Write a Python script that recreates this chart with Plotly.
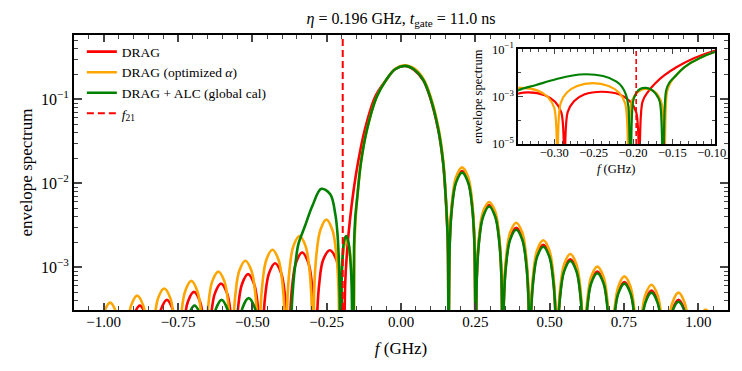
import plotly.graph_objects as go

# ---- data (f in GHz, envelope spectrum) ----
f21 = -0.196

# right-hand side lobes, shared frequency grid for the three pulses
f_right = [
    0.164, 0.172, 0.185, 0.2055, 0.226, 0.239, 0.247, 0.251,
    0.255, 0.263, 0.276, 0.2965, 0.317, 0.330, 0.338, 0.342,
    0.346, 0.354, 0.367, 0.3875, 0.408, 0.421, 0.429, 0.433,
    0.437, 0.445, 0.458, 0.4785, 0.499, 0.512, 0.520, 0.524,
    0.528, 0.536, 0.549, 0.5695, 0.590, 0.603, 0.611, 0.615,
    0.619, 0.627, 0.640, 0.6605, 0.681, 0.694, 0.702, 0.706,
    0.710, 0.718, 0.731, 0.7515, 0.772, 0.785, 0.793, 0.797,
    0.801, 0.809, 0.822, 0.8425, 0.863, 0.876, 0.884, 0.888,
    0.892, 0.900, 0.913, 0.9335, 0.954, 0.967, 0.975, 0.979,
    0.983, 0.991, 1.004, 1.0245, 1.045, 1.058, 1.066, 1.070,
    1.074, 1.082, 1.095, 1.1155,
]
red_right = [
    1.96e-3, 5.6e-3, 1.06e-2, 1.40e-2, 1.06e-2, 5.6e-3, 1.96e-3, 1e-7,
    7.7e-4, 2.2e-3, 4.2e-3, 5.5e-3, 4.2e-3, 2.2e-3, 7.7e-4, 1e-7,
    4.1e-4, 1.18e-3, 2.24e-3, 2.95e-3, 2.24e-3, 1.18e-3, 4.1e-4, 1e-7,
    2.6e-4, 7.4e-4, 1.41e-3, 1.85e-3, 1.41e-3, 7.4e-4, 2.6e-4, 1e-7,
    1.75e-4, 5.0e-4, 9.5e-4, 1.25e-3, 9.5e-4, 5.0e-4, 1.75e-4, 1e-7,
    1.25e-4, 3.6e-4, 6.8e-4, 8.9e-4, 6.8e-4, 3.6e-4, 1.25e-4, 1e-7,
    9.4e-5, 2.7e-4, 5.1e-4, 6.7e-4, 5.1e-4, 2.7e-4, 9.4e-5, 1e-7,
    7.4e-5, 2.1e-4, 4.0e-4, 5.3e-4, 4.0e-4, 2.1e-4, 7.4e-5, 1e-7,
    5.7e-5, 1.64e-4, 3.1e-4, 4.1e-4, 3.1e-4, 1.64e-4, 5.7e-5, 1e-7,
    3.8e-5, 1.08e-4, 2.05e-4, 2.7e-4, 2.05e-4, 1.08e-4, 3.8e-5, 1e-7,
    3.1e-5, 8.8e-5, 1.67e-4, 2.2e-4,
]
orange_right = [
    2.2e-3, 6.2e-3, 1.18e-2, 1.55e-2, 1.18e-2, 6.2e-3, 2.2e-3, 1e-7,
    8.4e-4, 2.4e-3, 4.6e-3, 6.0e-3, 4.6e-3, 2.4e-3, 8.4e-4, 1e-7,
    4.8e-4, 1.36e-3, 2.6e-3, 3.4e-3, 2.6e-3, 1.36e-3, 4.8e-4, 1e-7,
    2.9e-4, 8.4e-4, 1.6e-3, 2.1e-3, 1.6e-3, 8.4e-4, 2.9e-4, 1e-7,
    2.0e-4, 5.8e-4, 1.09e-3, 1.44e-3, 1.09e-3, 5.8e-4, 2.0e-4, 1e-7,
    1.4e-4, 4.1e-4, 7.8e-4, 1.02e-3, 7.8e-4, 4.1e-4, 1.4e-4, 1e-7,
    1.1e-4, 3.1e-4, 5.9e-4, 7.8e-4, 5.9e-4, 3.1e-4, 1.1e-4, 1e-7,
    8.7e-5, 2.5e-4, 4.7e-4, 6.2e-4, 4.7e-4, 2.5e-4, 8.7e-5, 1e-7,
    7.0e-5, 2.0e-4, 3.8e-4, 5.0e-4, 3.8e-4, 2.0e-4, 7.0e-5, 1e-7,
    4.4e-5, 1.26e-4, 2.4e-4, 3.15e-4, 2.4e-4, 1.26e-4, 4.4e-5, 1e-7,
    3.5e-5, 1.0e-4, 1.9e-4, 2.5e-4,
]
green_right = [
    1.88e-3, 5.4e-3, 1.02e-2, 1.34e-2, 1.02e-2, 5.4e-3, 1.88e-3, 1e-7,
    7.4e-4, 2.1e-3, 4.0e-3, 5.3e-3, 4.0e-3, 2.1e-3, 7.4e-4, 1e-7,
    3.9e-4, 1.12e-3, 2.13e-3, 2.8e-3, 2.13e-3, 1.12e-3, 3.9e-4, 1e-7,
    2.5e-4, 7.0e-4, 1.34e-3, 1.76e-3, 1.34e-3, 7.0e-4, 2.5e-4, 1e-7,
    1.67e-4, 4.8e-4, 9.0e-4, 1.19e-3, 9.0e-4, 4.8e-4, 1.67e-4, 1e-7,
    1.19e-4, 3.4e-4, 6.5e-4, 8.5e-4, 6.5e-4, 3.4e-4, 1.19e-4, 1e-7,
    9.0e-5, 2.6e-4, 4.9e-4, 6.4e-4, 4.9e-4, 2.6e-4, 9.0e-5, 1e-7,
    7.0e-5, 2.0e-4, 3.8e-4, 5.0e-4, 3.8e-4, 2.0e-4, 7.0e-5, 1e-7,
    5.5e-5, 1.56e-4, 3.0e-4, 3.9e-4, 3.0e-4, 1.56e-4, 5.5e-5, 1e-7,
    3.6e-5, 1.04e-4, 2.0e-4, 2.6e-4, 2.0e-4, 1.04e-4, 3.6e-5, 1e-7,
    2.9e-5, 8.4e-5, 1.6e-4, 2.1e-4,
]

# DRAG: left side lobes + main lobe
f_red_left = [
    -1.106, -1.102, -1.094, -1.081, -1.0605, -1.040, -1.027, -1.019,
    -1.015, -1.011, -1.003, -0.990, -0.9695, -0.949, -0.936, -0.928,
    -0.924, -0.920, -0.912, -0.899, -0.8785, -0.858, -0.845, -0.837,
    -0.833, -0.829, -0.821, -0.808, -0.7875, -0.767, -0.754, -0.746,
    -0.742, -0.738, -0.730, -0.717, -0.6965, -0.676, -0.663, -0.655,
    -0.651, -0.647, -0.639, -0.626, -0.6055, -0.585, -0.572, -0.564,
    -0.560, -0.556, -0.548, -0.535, -0.5145, -0.494, -0.481, -0.473,
    -0.469, -0.465, -0.457, -0.444, -0.4235, -0.403, -0.390, -0.382,
    -0.378, -0.374, -0.366, -0.353, -0.3325, -0.312, -0.299, -0.291,
    -0.287, -0.283, -0.275, -0.262, -0.2395, -0.217, -0.204, -0.196,
]
red_left = [
    1e-7, 3.5e-5, 1.0e-4, 1.9e-4, 2.5e-4, 1.9e-4, 1.0e-4, 3.5e-5,
    1e-7, 4.1e-5, 1.16e-4, 2.2e-4, 2.9e-4, 2.2e-4, 1.16e-4, 4.1e-5,
    1e-7, 4.9e-5, 1.4e-4, 2.66e-4, 3.5e-4, 2.66e-4, 1.4e-4, 4.9e-5,
    1e-7, 5.7e-5, 1.64e-4, 3.1e-4, 4.1e-4, 3.1e-4, 1.64e-4, 5.7e-5,
    1e-7, 7.1e-5, 2.0e-4, 3.9e-4, 5.1e-4, 3.9e-4, 2.0e-4, 7.1e-5,
    1e-7, 9.0e-5, 2.6e-4, 4.9e-4, 6.4e-4, 4.9e-4, 2.6e-4, 9.0e-5,
    1e-7, 1.16e-4, 3.3e-4, 6.3e-4, 8.3e-4, 6.3e-4, 3.3e-4, 1.16e-4,
    1e-7, 1.57e-4, 4.5e-4, 8.5e-4, 1.12e-3, 8.5e-4, 4.5e-4, 1.57e-4,
    1e-7, 2.1e-4, 6.0e-4, 1.14e-3, 1.5e-3, 1.14e-3, 6.0e-4, 2.1e-4,
    1e-7, 2.2e-4, 6.4e-4, 1.22e-3, 1.6e-3, 1.22e-3, 6.4e-4, 2.2e-4,
]
f_red_main = [-0.192, -0.188, -0.181, -0.172, -0.160, -0.145, -0.122, -0.087, -0.05, -0.02,
              0.013, 0.045, 0.075, 0.098, 0.126, 0.142, 0.150, 0.155, 0.158, 0.160]
red_main = [1e-7, 6e-4, 1.6e-3, 3.6e-3, 8e-3, 0.0174, 0.043, 0.107, 0.17, 0.228,
            0.249, 0.223, 0.168, 0.105, 0.042, 0.017, 7.1e-3, 3.3e-3, 1.5e-3, 1e-7]

# DRAG (optimized alpha)
f_orange_left = [
    -1.115, -1.111, -1.103, -1.090, -1.0695, -1.049, -1.036, -1.028,
    -1.024, -1.020, -1.012, -0.999, -0.9785, -0.958, -0.945, -0.937,
    -0.933, -0.929, -0.921, -0.908, -0.8875, -0.867, -0.854, -0.846,
    -0.842, -0.838, -0.830, -0.817, -0.7965, -0.776, -0.763, -0.755,
    -0.751, -0.747, -0.739, -0.726, -0.7055, -0.685, -0.672, -0.664,
    -0.660, -0.656, -0.648, -0.635, -0.6145, -0.594, -0.581, -0.573,
    -0.569, -0.565, -0.557, -0.544, -0.5235, -0.503, -0.490, -0.482,
    -0.478, -0.474, -0.466, -0.453, -0.4325, -0.412, -0.399, -0.391,
    -0.387, -0.383, -0.375, -0.362, -0.3415, -0.321, -0.308, -0.300,
    -0.296, -0.292, -0.284, -0.271, -0.251, -0.231, -0.218, -0.210,
    -0.206, -0.203, -0.198, -0.191, -0.183, -0.175, -0.168, -0.163,
]
orange_left = [
    1e-7, 3.9e-5, 1.1e-4, 2.1e-4, 2.8e-4, 2.1e-4, 1.1e-4, 3.9e-5,
    1e-7, 5.3e-5, 1.52e-4, 2.9e-4, 3.8e-4, 2.9e-4, 1.52e-4, 5.3e-5,
    1e-7, 6.4e-5, 1.84e-4, 3.5e-4, 4.6e-4, 3.5e-4, 1.84e-4, 6.4e-5,
    1e-7, 7.8e-5, 2.2e-4, 4.3e-4, 5.6e-4, 4.3e-4, 2.2e-4, 7.8e-5,
    1e-7, 9.7e-5, 2.8e-4, 5.2e-4, 6.9e-4, 5.2e-4, 2.8e-4, 9.7e-5,
    1e-7, 1.25e-4, 3.6e-4, 6.8e-4, 8.9e-4, 6.8e-4, 3.6e-4, 1.25e-4,
    1e-7, 1.7e-4, 4.8e-4, 9.1e-4, 1.2e-3, 9.1e-4, 4.8e-4, 1.7e-4,
    1e-7, 2.3e-4, 6.5e-4, 1.23e-3, 1.62e-3, 1.23e-3, 6.5e-4, 2.3e-4,
    1e-7, 3.3e-4, 9.4e-4, 1.79e-3, 2.35e-3, 1.79e-3, 9.4e-4, 3.3e-4,
    1e-7, 5.2e-4, 1.48e-3, 2.8e-3, 3.7e-3, 2.8e-3, 1.48e-3, 5.2e-4,
    1e-7, 4.2e-4, 1.1e-3, 1.8e-3, 2.1e-3, 1.8e-3, 1.1e-3, 4.2e-4,
]
f_orange_main = [-0.160, -0.157, -0.153, -0.147, -0.135, -0.115, -0.082, -0.05, -0.02,
                 0.013, 0.045, 0.075, 0.098, 0.126, 0.142, 0.150, 0.155, 0.158, 0.160]
orange_main = [1e-7, 1.5e-3, 3.6e-3, 6.9e-3, 1.74e-2, 4.3e-2, 0.107, 0.17, 0.23,
               0.255, 0.232, 0.176, 0.112, 0.046, 0.0188, 7.8e-3, 3.8e-3, 1.8e-3, 1e-7]

# DRAG + ALC (global cal)
f_green_left = [
    -1.104, -1.100, -1.092, -1.079, -1.0585, -1.038, -1.025, -1.017,
    -1.013, -1.009, -1.001, -0.988, -0.9675, -0.947, -0.934, -0.926,
    -0.922, -0.918, -0.910, -0.897, -0.8765, -0.856, -0.843, -0.835,
    -0.831, -0.827, -0.819, -0.806, -0.7855, -0.765, -0.752, -0.744,
    -0.740, -0.736, -0.728, -0.715, -0.6945, -0.674, -0.661, -0.653,
    -0.649, -0.645, -0.637, -0.624, -0.6035, -0.583, -0.570, -0.562,
    -0.558, -0.554, -0.546, -0.533, -0.5125, -0.492, -0.479, -0.471,
    -0.467, -0.463, -0.455, -0.442, -0.420, -0.398, -0.385, -0.377,
    -0.373, -0.369, -0.362, -0.354, -0.345, -0.323, -0.298, -0.268, -0.238, -0.221, -0.214, -0.209, -0.206,
    -0.203, -0.200, -0.196, -0.191, -0.184, -0.177, -0.171, -0.166,
]
green_left = [
    1e-7, 2.1e-5, 6.0e-5, 1.14e-4, 1.5e-4, 1.14e-4, 6.0e-5, 2.1e-5,
    1e-7, 2.5e-5, 7.2e-5, 1.37e-4, 1.8e-4, 1.37e-4, 7.2e-5, 2.5e-5,
    1e-7, 3.1e-5, 8.8e-5, 1.67e-4, 2.2e-4, 1.67e-4, 8.8e-5, 3.1e-5,
    1e-7, 3.8e-5, 1.08e-4, 2.05e-4, 2.7e-4, 2.05e-4, 1.08e-4, 3.8e-5,
    1e-7, 4.9e-5, 1.4e-4, 2.66e-4, 3.5e-4, 2.66e-4, 1.4e-4, 4.9e-5,
    1e-7, 5.7e-5, 1.64e-4, 3.1e-4, 4.1e-4, 3.1e-4, 1.64e-4, 5.7e-5,
    1e-7, 6.0e-5, 1.72e-4, 3.3e-4, 4.3e-4, 3.3e-4, 1.72e-4, 6.0e-5,
    1e-7, 3.1e-5, 8.8e-5, 1.67e-4, 2.2e-4, 1.67e-4, 8.8e-5, 3.1e-5,
    1e-7, 2.5e-4, 6.5e-4, 1.2e-3, 1.9e-3, 3.1e-3, 5.4e-3, 8.6e-3, 7.4e-3, 4.3e-3, 2.6e-3, 1.2e-3, 4e-4,
    1e-7, 6e-4, 1.4e-3, 2.1e-3, 2.35e-3, 2.0e-3, 1.3e-3, 6e-4,
]
f_green_main = [-0.162, -0.158, -0.154, -0.147, -0.135, -0.115, -0.082, -0.05, -0.02,
                0.013, 0.045, 0.075, 0.098, 0.126, 0.142, 0.150, 0.155, 0.158, 0.160]
green_main = [1e-7, 1.8e-3, 3.8e-3, 6.9e-3, 1.74e-2, 4.3e-2, 0.107, 0.17, 0.228,
              0.25, 0.225, 0.17, 0.107, 0.043, 0.0174, 7.3e-3, 3.4e-3, 1.6e-3, 1e-7]

labels = ["DRAG", "DRAG (optimized <i>α</i>)", "DRAG + ALC (global cal)"]
colors = ["#ff0000", "#ffa500", "#008000"]

series = [
    (f_red_left + f_red_main + f_right, red_left + red_main + red_right),
    (f_orange_left + f_orange_main + f_right, orange_left + orange_main + orange_right),
    (f_green_left + f_green_main + f_right, green_left + green_main + green_right),
]

FONT = "Liberation Serif, Times New Roman, serif"

fig = go.Figure()

for (fx, fy), name, col in zip(series, labels, colors):
    fig.add_trace(go.Scatter(x=fx, y=fy, mode="lines", name=name,
                             line=dict(color=col, width=2.6, shape="spline")))
# f21 legend entry (the line itself is drawn as shapes below)
fig.add_trace(go.Scatter(x=[None], y=[None], mode="lines", name="<i>f</i><sub>21</sub>",
                         line=dict(color="#ff0000", width=2, dash="7px,4px")))

# inset
for (fx, fy), name, col in zip(series, labels, colors):
    fig.add_trace(go.Scatter(x=fx, y=fy, mode="lines", name=name, showlegend=False,
                             xaxis="x2", yaxis="y2",
                             line=dict(color=col, width=2.2, shape="spline")))

fig.add_shape(type="line", xref="x", yref="y domain", x0=f21, x1=f21, y0=0, y1=1,
              line=dict(color="#ff0000", width=2, dash="7px,4px"))
fig.add_shape(type="line", xref="x2", yref="y2 domain", x0=f21, x1=f21, y0=0, y1=1,
              line=dict(color="#ff0000", width=1.6, dash="5px,3px"))

# inset x label
fig.add_annotation(text="<i>f</i> (GHz)", x=0.8295, y=0.512, xref="paper", yref="paper",
                   xanchor="center", yanchor="middle", showarrow=False, font=dict(size=12.5))

minor_log = [m * 10.0 ** e for e in range(-6, 1) for m in range(2, 10)]

# the page body adds an 8px offset, so the figure is 8px smaller and margins shifted
fig.update_layout(
    width=734, height=363,
    margin=dict(l=66, r=14, t=27, b=61, autoexpand=False),
    plot_bgcolor="white", paper_bgcolor="white",
    font=dict(family=FONT, color="black", size=15),
    title=dict(text="<i>η</i> = 0.196 GHz, <i>t</i><sub>gate</sub> = 11.0 ns",
               x=0.5, xref="paper", xanchor="center", y=0.9725, yref="container", yanchor="middle",
               font=dict(size=16)),
    showlegend=True,
    legend=dict(x=0.012, y=0.995, xanchor="left", yanchor="top", bgcolor="rgba(0,0,0,0)",
                font=dict(size=13.5), tracegroupgap=0),
    xaxis=dict(
        range=[-1.1, 1.1], tickmode="linear", tick0=0, dtick=0.25, tickformat=".2f",
        ticks="inside", ticklen=7, tickwidth=1.5, showline=True, linewidth=2, linecolor="black",
        mirror="allticks", showgrid=False, zeroline=False, automargin=False,
        ticklabelstandoff=-3,
        minor=dict(ticks="inside", ticklen=4, tickwidth=1, dtick=0.05, showgrid=False),
        title=dict(text="<i>f</i> (GHz)", font=dict(size=17), standoff=13),
        tickfont=dict(size=15),
    ),
    yaxis=dict(
        type="log", range=[-3.508, -0.234],
        tickvals=[1e-3, 1e-2, 1e-1],
        ticktext=["10<sup>−3</sup>", "10<sup>−2</sup>", "10<sup>−1</sup>"],
        ticks="inside", ticklen=8, tickwidth=1.5, showline=True, linewidth=2, linecolor="black",
        mirror="allticks", showgrid=False, zeroline=False, automargin=False,
        minor=dict(ticks="inside", ticklen=4, tickwidth=1, tickvals=minor_log, showgrid=False),
        title=dict(text="envelope spectrum", font=dict(size=17), standoff=4),
        tickfont=dict(size=16),
    ),
    xaxis2=dict(
        domain=[0.679, 0.980], anchor="y2", range=[-0.346, -0.096],
        tickvals=[-0.30, -0.25, -0.20, -0.15, -0.10], tickformat=".2f",
        ticks="inside", ticklen=5, tickwidth=1.2, showline=True, linewidth=1.6, linecolor="black",
        mirror="allticks", showgrid=False, zeroline=False, automargin=False,
        ticklabelstandoff=-4,
        minor=dict(ticks="inside", ticklen=3, tickwidth=1, dtick=0.01, tick0=0, showgrid=False),
        tickfont=dict(size=12.5),
    ),
    yaxis2=dict(
        domain=[0.604, 0.948], anchor="x2", type="log", range=[-5, -1],
        tickvals=[1e-5, 1e-3, 1e-1],
        ticktext=["10<sup>−5</sup>", "10<sup>−3</sup>", "10<sup>−1</sup>"],
        ticks="inside", ticklen=5, tickwidth=1.2, showline=True, linewidth=1.6, linecolor="black",
        mirror="allticks", showgrid=False, zeroline=False, automargin=False,
        minor=dict(ticks="inside", ticklen=3, tickwidth=1, tickvals=[1e-4, 1e-2], showgrid=False),
        title=dict(text="envelope spectrum", font=dict(size=12.5), standoff=7),
        tickfont=dict(size=12.5),
    ),
)

fig.write_html("out.html")
